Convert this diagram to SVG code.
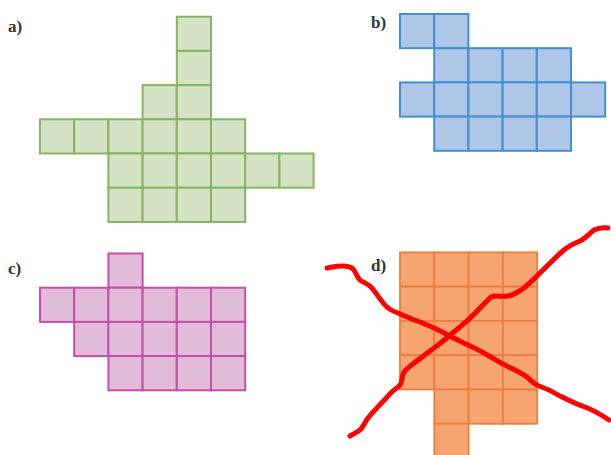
<svg xmlns="http://www.w3.org/2000/svg" width="611" height="455" viewBox="0 0 611 455">
<style>
.lbl{font-family:"Liberation Serif","DejaVu Serif",serif;font-weight:bold;font-size:17px;fill:#333}
.ga rect{fill:#d5e2c5;stroke:#84b55f;stroke-width:2}
.gb rect{fill:#afc6e7;stroke:#4190d2;stroke-width:2}
.gc rect{fill:#e0bcd8;stroke:#c74dac;stroke-width:2}
.gd rect{fill:#f6a470;stroke:#ee7d40;stroke-width:1.8}
.x{fill:none;stroke:#f00;stroke-width:5;stroke-linecap:round;stroke-linejoin:round}
</style>
<rect width="611" height="455" fill="#fff"/>
<g id="fig-a" class="ga">
<text class="lbl" x="8" y="32">a)</text>
<rect x="176.8" y="16.7" width="34.2" height="34.2"/>
<rect x="176.8" y="50.9" width="34.2" height="34.2"/>
<rect x="142.6" y="85.1" width="34.2" height="34.2"/>
<rect x="176.8" y="85.1" width="34.2" height="34.2"/>
<rect x="40" y="119.3" width="34.2" height="34.2"/>
<rect x="74.2" y="119.3" width="34.2" height="34.2"/>
<rect x="108.4" y="119.3" width="34.2" height="34.2"/>
<rect x="142.6" y="119.3" width="34.2" height="34.2"/>
<rect x="176.8" y="119.3" width="34.2" height="34.2"/>
<rect x="211" y="119.3" width="34.2" height="34.2"/>
<rect x="108.4" y="153.5" width="34.2" height="34.2"/>
<rect x="142.6" y="153.5" width="34.2" height="34.2"/>
<rect x="176.8" y="153.5" width="34.2" height="34.2"/>
<rect x="211" y="153.5" width="34.2" height="34.2"/>
<rect x="245.2" y="153.5" width="34.2" height="34.2"/>
<rect x="279.4" y="153.5" width="34.2" height="34.2"/>
<rect x="108.4" y="187.7" width="34.2" height="34.2"/>
<rect x="142.6" y="187.7" width="34.2" height="34.2"/>
<rect x="176.8" y="187.7" width="34.2" height="34.2"/>
<rect x="211" y="187.7" width="34.2" height="34.2"/>
</g>
<g id="fig-b" class="gb">
<text class="lbl" x="371" y="28">b)</text>
<rect x="400" y="14" width="34.2" height="34.2"/>
<rect x="434.2" y="14" width="34.2" height="34.2"/>
<rect x="434.2" y="48.2" width="34.2" height="34.2"/>
<rect x="468.4" y="48.2" width="34.2" height="34.2"/>
<rect x="502.6" y="48.2" width="34.2" height="34.2"/>
<rect x="536.8" y="48.2" width="34.2" height="34.2"/>
<rect x="400" y="82.4" width="34.2" height="34.2"/>
<rect x="434.2" y="82.4" width="34.2" height="34.2"/>
<rect x="468.4" y="82.4" width="34.2" height="34.2"/>
<rect x="502.6" y="82.4" width="34.2" height="34.2"/>
<rect x="536.8" y="82.4" width="34.2" height="34.2"/>
<rect x="571" y="82.4" width="34.2" height="34.2"/>
<rect x="434.2" y="116.6" width="34.2" height="34.2"/>
<rect x="468.4" y="116.6" width="34.2" height="34.2"/>
<rect x="502.6" y="116.6" width="34.2" height="34.2"/>
<rect x="536.8" y="116.6" width="34.2" height="34.2"/>
</g>
<g id="fig-c" class="gc">
<text class="lbl" x="8" y="274">c)</text>
<rect x="108.4" y="253.5" width="34.2" height="34.2"/>
<rect x="40" y="287.7" width="34.2" height="34.2"/>
<rect x="74.2" y="287.7" width="34.2" height="34.2"/>
<rect x="108.4" y="287.7" width="34.2" height="34.2"/>
<rect x="142.6" y="287.7" width="34.2" height="34.2"/>
<rect x="176.8" y="287.7" width="34.2" height="34.2"/>
<rect x="211" y="287.7" width="34.2" height="34.2"/>
<rect x="74.2" y="321.9" width="34.2" height="34.2"/>
<rect x="108.4" y="321.9" width="34.2" height="34.2"/>
<rect x="142.6" y="321.9" width="34.2" height="34.2"/>
<rect x="176.8" y="321.9" width="34.2" height="34.2"/>
<rect x="211" y="321.9" width="34.2" height="34.2"/>
<rect x="108.4" y="356.1" width="34.2" height="34.2"/>
<rect x="142.6" y="356.1" width="34.2" height="34.2"/>
<rect x="176.8" y="356.1" width="34.2" height="34.2"/>
<rect x="211" y="356.1" width="34.2" height="34.2"/>
</g>
<g id="fig-d" class="gd">
<text class="lbl" x="371" y="271">d)</text>
<rect x="400" y="252.3" width="34.3" height="34.3"/>
<rect x="434.3" y="252.3" width="34.3" height="34.3"/>
<rect x="468.6" y="252.3" width="34.3" height="34.3"/>
<rect x="502.9" y="252.3" width="34.3" height="34.3"/>
<rect x="400" y="286.6" width="34.3" height="34.3"/>
<rect x="434.3" y="286.6" width="34.3" height="34.3"/>
<rect x="468.6" y="286.6" width="34.3" height="34.3"/>
<rect x="502.9" y="286.6" width="34.3" height="34.3"/>
<rect x="400" y="320.9" width="34.3" height="34.3"/>
<rect x="434.3" y="320.9" width="34.3" height="34.3"/>
<rect x="468.6" y="320.9" width="34.3" height="34.3"/>
<rect x="502.9" y="320.9" width="34.3" height="34.3"/>
<rect x="400" y="355.2" width="34.3" height="34.3"/>
<rect x="434.3" y="355.2" width="34.3" height="34.3"/>
<rect x="468.6" y="355.2" width="34.3" height="34.3"/>
<rect x="502.9" y="355.2" width="34.3" height="34.3"/>
<rect x="434.3" y="389.5" width="34.3" height="34.3"/>
<rect x="468.6" y="389.5" width="34.3" height="34.3"/>
<rect x="502.9" y="389.5" width="34.3" height="34.3"/>
<rect x="434.3" y="423.8" width="34.3" height="34.3"/>
</g>
<g id="crossout">
<path class="x" d="M327 268 C333 267 337 266 342 266 C347 266 351 267 353 269 C356 272 356 276 360 280 C364 283 369 284 372 288 C376 293 379 298 384 304 C388 309 392 311 398 313 C405 316 411 319 420 322 C430 326 437 329 446 334 C455 339 462 342 470 346 C480 350 490 357 503 364 C513 369 520 372 527 377 C531 381 534 384 539 386 C545 388 552 391 560 396 C568 400 576 404 585 407 C593 410 600 414 609 420"/>
<path class="x" d="M350 436 C355 433 358 432 361 429 C364 425 365 422 368 418 C371 414 373 412 376 409 C380 404 384 401 388 396 C392 391 396 389 400 385 C403 381 401 377 404 372 C408 367 412 365 418 360 C425 355 431 350 438 345 C446 339 452 333 460 327 C467 321 473 316 480 308 C485 303 488 300 491 297 C495 295 502 297 508 296 C514 295 518 292 524 288 C531 282 537 276 544 269 C551 262 557 256 564 250 C570 245 575 243 580 241 C586 238 589 234 594 230 C598 228 601 227 608 228"/>
</g>
</svg>
